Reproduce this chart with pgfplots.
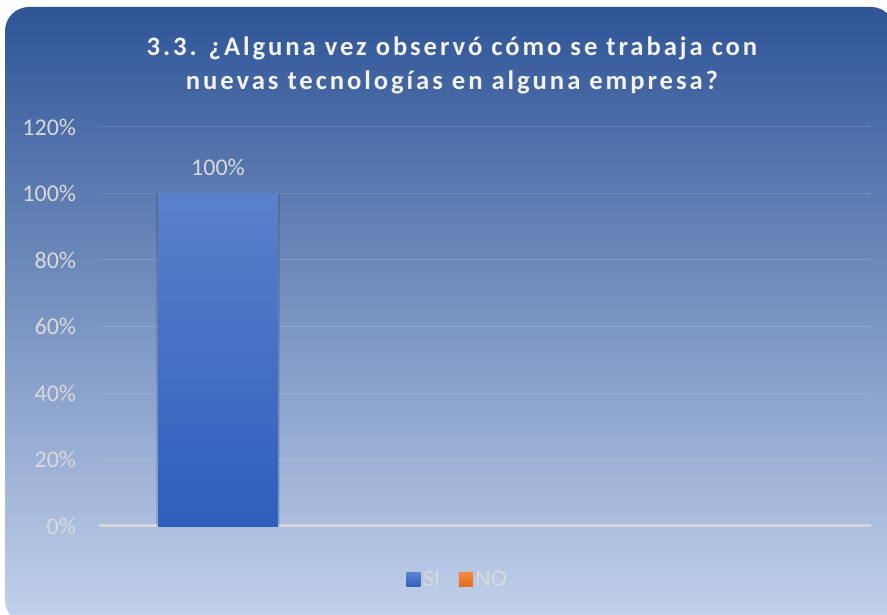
\documentclass[border=0pt]{standalone}
\usepackage{fontspec}
\setmainfont{Carlito}
\newfontfamily\titlefont[LetterSpace=11]{Carlito}
\usepackage{pgfplots}
\pgfplotsset{compat=1.18}

\definecolor{bgtop}{HTML}{2F5597}
\definecolor{bgmid}{HTML}{6F8CC4}
\definecolor{bgbot}{HTML}{C3D2EC}
\definecolor{sitop}{HTML}{5B80CC}
\definecolor{sibot}{HTML}{2E5FBC}
\definecolor{notop}{HTML}{F4873F}
\definecolor{nobot}{HTML}{E36C1A}
\definecolor{labelgray}{HTML}{D9D9D9}
\definecolor{titlecol}{HTML}{F2F2F2}

\begin{document}
\begin{tikzpicture}[x=0.75pt,y=0.75pt]
\useasboundingbox (0,0) rectangle (887,614);
\begin{scope}
  \clip (0,0) rectangle (887,614);
  \shade[top color=bgtop, middle color=bgmid, bottom color=bgbot, rounded corners=18pt]
    (5,-10) rectangle (895,607);
\end{scope}

\node[font=\titlefont\bfseries\fontsize{20}{25.5}\selectfont, text=titlecol, align=center]
  at (452,549) {3.3. ¿Alguna vez observó cómo se trabaja con\\nuevas tecnologías en alguna empresa?};

\begin{axis}[
  at={(74.25pt,66pt)}, anchor=south west,
  scale only axis,
  width=579pt, height=299.25pt,
  xmin=0, xmax=772,
  ymin=0, ymax=120,
  xtick=\empty,
  ytick={0,20,40,60,80,100,120},
  yticklabels={0\%,20\%,40\%,60\%,80\%,100\%,120\%},
  yticklabel style={font=\fontsize{18}{22}\selectfont, text=labelgray, inner sep=0pt, xshift=-17pt},
  axis line style={draw=none},
  major tick length=0pt,
  ymajorgrids,
  major grid style={white, opacity=0.15, line width=0.75pt},
  legend style={at={(0.465,-0.1353)}, anchor=center, draw=none, fill=none,
    font=\fontsize{18}{22}\selectfont, text=labelgray, legend columns=2,
    /tikz/every even column/.append style={column sep=12pt},
    inner sep=0pt},
  legend cell align=left,
]
\draw[labelgray, opacity=0.9, line width=2.4pt] (axis cs:0,0) -- (axis cs:772,0);
% soft shadow behind the bar
\addplot[ybar, bar width=93pt, bar shift=0pt, draw=none, fill=black, opacity=0.12, forget plot]
  coordinates {(119,100)};
\addplot[ybar, bar width=90pt, bar shift=0pt, draw=none, top color=sitop, bottom color=sibot,
  nodes near coords={100\%},
  every node near coord/.append style={font=\fontsize{18}{22}\selectfont, text=labelgray, anchor=center, yshift=19.5pt},
  legend image code/.code={\shade[draw=none, top color=sitop, bottom color=sibot] (0pt,-5.25pt) rectangle (10.5pt,5.25pt);}
  ] coordinates {(119,100)};
\addlegendentry{SI}
\addlegendimage{draw=none, legend image code/.code={\shade[draw=none, top color=notop, bottom color=nobot] (0pt,-5.25pt) rectangle (10.5pt,5.25pt);}}
\addlegendentry{NO}
\end{axis}
\end{tikzpicture}
\end{document}
